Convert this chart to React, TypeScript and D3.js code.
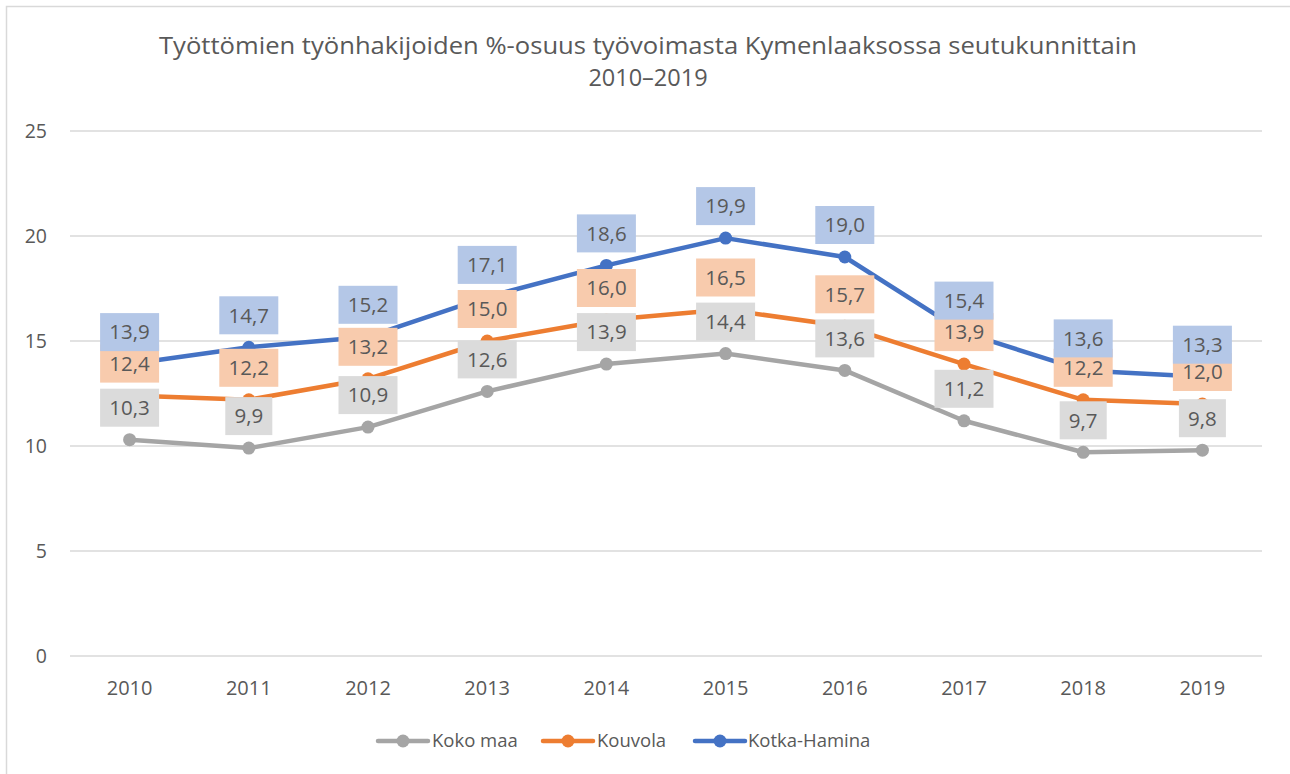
import React from "react";
import * as d3 from "d3";

const years = ["2010", "2011", "2012", "2013", "2014", "2015", "2016", "2017", "2018", "2019"];
const kokoMaa = [10.3, 9.9, 10.9, 12.6, 13.9, 14.4, 13.6, 11.2, 9.7, 9.8];
const kouvola = [12.4, 12.2, 13.2, 15.0, 16.0, 16.5, 15.7, 13.9, 12.2, 12.0];
const kotkaHamina = [13.9, 14.7, 15.2, 17.1, 18.6, 19.9, 19.0, 15.4, 13.6, 13.3];
const yTicks = [0, 5, 10, 15, 20, 25];
const seriesNames = ["Koko maa", "Kouvola", "Kotka-Hamina"];

const colors = ["#A5A5A5", "#ED7D31", "#4472C4"];
const labelFills = ["#DBDBDB", "#F8CBAD", "#B4C7E7"];
const FONT = "'Open Sans', sans-serif";
const TXT = "#595959";

export default function App() {
  const W = 1290, H = 774;
  const left = 70, right = 1262, top = 131, bottom = 656;
  const x = d3.scaleBand<string>().domain(years).range([left, right]);
  const y = d3.scaleLinear().domain([0, 25]).range([bottom, top]);
  const cx = (yr: string) => (x(yr) as number) + x.bandwidth() / 2;
  const series = [kokoMaa, kouvola, kotkaHamina];
  const line = d3.line<number>().x((_, i) => cx(years[i])).y((d) => y(d));
  const fmt = (v: number) => v.toFixed(1).replace(".", ",");

  const legendItems = [
    { lx: 378, tx: 432 },
    { lx: 543, tx: 597 },
    { lx: 695, tx: 748 },
  ];

  return (
    <div style={{ position: "fixed", left: 0, top: 0 }}>
      <svg width={W} height={H} style={{ display: "block", background: "#fff" }} fontFamily={FONT}>
        <rect x={0} y={0} width={W} height={H} fill="#fff" />
        <path d={`M6.5,${H} V6.5 H${W}`} fill="none" stroke="#D9D9D9" strokeWidth={1.5} />
        <text x={648} y={54} textAnchor="middle" fontSize={23.5} fill={TXT} textLength={978} lengthAdjust="spacingAndGlyphs">
          Työttömien työnhakijoiden %-osuus työvoimasta Kymenlaaksossa seutukunnittain
        </text>
        <text x={648} y={86} textAnchor="middle" fontSize={23.5} fill={TXT}>
          2010–2019
        </text>
        {yTicks.map((t) => (
          <g key={t}>
            <line x1={left} x2={right} y1={y(t)} y2={y(t)} stroke="#D9D9D9" strokeWidth={1.3} />
            <text x={47} y={y(t)} dy="0.35em" textAnchor="end" fontSize={19.5} fill={TXT}>
              {t}
            </text>
          </g>
        ))}
        {years.map((yr) => (
          <text key={yr} x={cx(yr)} y={695} textAnchor="middle" fontSize={20} fill={TXT}>
            {yr}
          </text>
        ))}
        {series.map((s, si) => (
          <g key={si}>
            <path d={line(s) || ""} fill="none" stroke={colors[si]} strokeWidth={4.5} strokeLinejoin="round" strokeLinecap="round" />
            {s.map((v, i) => (
              <circle key={i} cx={cx(years[i])} cy={y(v)} r={6.5} fill={colors[si]} />
            ))}
          </g>
        ))}
        {series.map((s, si) => (
          <g key={"l" + si}>
            {s.map((v, i) => {
              const label = fmt(v);
              const w = 11 + 12 * label.length;
              const h = 38;
              const lx = cx(years[i]);
              const ly = y(v) - 32;
              return (
                <g key={i}>
                  <rect x={lx - w / 2} y={ly - h / 2} width={w} height={h} fill={labelFills[si]} />
                  <text x={lx} y={ly} dy="0.36em" textAnchor="middle" fontSize={20.5} fill={TXT}>
                    {label}
                  </text>
                </g>
              );
            })}
          </g>
        ))}
        {legendItems.map((it, i) => (
          <g key={i}>
            <line x1={it.lx} x2={it.lx + 50} y1={741} y2={741} stroke={colors[i]} strokeWidth={4.5} strokeLinecap="round" />
            <circle cx={it.lx + 25} cy={741} r={6.5} fill={colors[i]} />
            <text x={it.tx} y={741} dy="0.35em" fontSize={18.5} fill={TXT}>
              {seriesNames[i]}
            </text>
          </g>
        ))}
      </svg>
    </div>
  );
}
